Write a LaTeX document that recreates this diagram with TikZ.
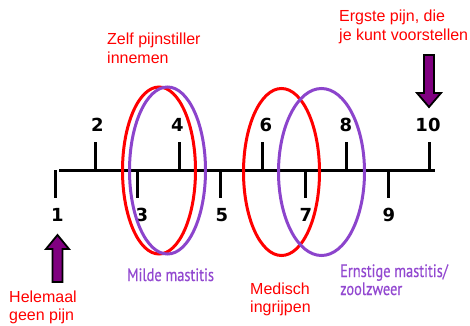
\documentclass[tikz,border=0pt]{standalone}
\usepackage{fontspec}
\setmainfont{Liberation Sans}
\newfontfamily\numfont{DejaVu Sans}
\newfontfamily\condfont[FakeStretch=0.8,FakeBold=0.4]{PT Sans}
\definecolor{ellpurple}{RGB}{140,68,204}
\definecolor{txtpurple}{RGB}{146,72,208}
\definecolor{arrowfill}{RGB}{128,0,128}
\begin{document}
\begin{tikzpicture}[x=1pt,y=-1pt,
  redtxt/.style={anchor=base west, inner sep=0pt, text=red, font=\fontsize{16}{19}\selectfont},
  purtxt/.style={anchor=base west, inner sep=0pt, text=txtpurple, font=\condfont\fontsize{18}{20}\selectfont},
  num/.style={anchor=base, inner sep=0pt, font=\numfont\bfseries\fontsize{18}{20}\selectfont},
  axis/.style={line width=3pt, black},
  ring/.style={line width=3pt},
  blockarrow/.style={draw=black, line width=1.8pt, fill=arrowfill, line join=miter}]
\useasboundingbox (0,0) rectangle (470,325);
% axis
\coordinate (ls) at (59,170);
\coordinate (le) at (435,170);
\draw[axis] (ls) -- (le);
\foreach \i/\x in {1/55,3/137.7,5/220,7/305,9/388}{
  \coordinate (t\i) at (\x,170);
  \draw[axis] (t\i) -- ++(0,28);
}
\foreach \i/\x in {2/95.5,4/179.3,6/262.7,8/346.7,10/429}{
  \coordinate (t\i) at (\x,170);
  \draw[axis] (t\i) -- ++(0,-28);
}
% numbers
\foreach \i/\x in {1/57.5,3/142,5/222,7/306,9/389}{
  \node[num] (n\i) at (\x,221.5) {\i};
}
\foreach \i/\x in {2/97.5,4/177.5,6/266,8/346,10/428}{
  \node[num] (n\i) at (\x,131.5) {\i};
}
% ellipses
\draw[ring, red] (159,170.5) ellipse [x radius=36.5, y radius=83.5];
\draw[ring, ellpurple] (167.5,170.5) ellipse [x radius=38, y radius=83.5];
\draw[ring, red] (281.5,172) ellipse [x radius=38, y radius=83.5];
\draw[ring, ellpurple] (321.5,172) ellipse [x radius=43, y radius=83.5];
% block arrows
\draw[blockarrow] (424,55) -- (434,55) -- (434,93) -- (441,93) -- (429,107) -- (417,93) -- (424,93) -- cycle;
\draw[blockarrow] (52.5,282) -- (62.5,282) -- (62.5,249) -- (69,249) -- (57.5,235) -- (46,249) -- (52.5,249) -- cycle;
% texts
\node[redtxt] (zelf1) at (107,44) {Zelf pijnstiller};
\node[redtxt] (zelf2) at (107,63) {innemen};
\node[redtxt] (erg1) at (339,21.5) {Ergste pijn, die};
\node[redtxt] (erg2) at (339,40.5) {je kunt voorstellen};
\node[redtxt] (hel1) at (9,302) {Helemaal};
\node[redtxt] (hel2) at (9,320) {geen pijn};
\node[redtxt] (med1) at (250,294) {Medisch};
\node[redtxt] (med2) at (250,312) {ingrijpen};
\node[purtxt] (mild) at (127,281) {Milde mastitis};
\node[purtxt] (ern1) at (340,277) {Ernstige mastitis/};
\node[purtxt] (ern2) at (340,295) {zoolzweer};
\end{tikzpicture}
\end{document}
